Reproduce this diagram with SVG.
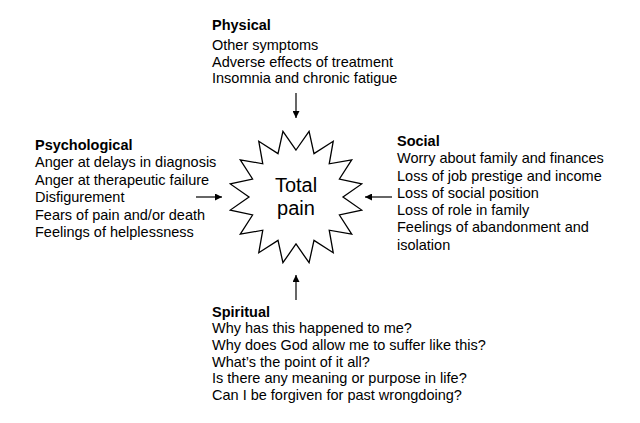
<svg xmlns="http://www.w3.org/2000/svg" width="640" height="423" viewBox="0 0 640 423">
<defs>
<style>
text{font-family:"Liberation Sans",Arial,Helvetica,sans-serif;font-size:14.5px;fill:#000}
.h{font-weight:bold}
.c{font-size:20px;text-anchor:middle}
.conn line{stroke:#000;stroke-width:1.2;fill:none}
</style>
<marker id="ah" viewBox="0 0 10 10" refX="10" refY="5" markerWidth="7" markerHeight="7" markerUnits="userSpaceOnUse" orient="auto">
<path d="M0,0 L10,5 L0,10 z" fill="#000"/>
</marker>
</defs>
<rect width="640" height="423" fill="#fff"/>
<g id="total-pain">
<polygon fill="#fff" stroke="#000" stroke-width="1.3" stroke-linejoin="miter" points="296,150 309.07,131.29 313.99,153.58 333.22,141.29 329.23,163.77 351.71,159.78 339.42,179.01 361.71,183.93 343,197 361.71,210.07 339.42,214.99 351.71,234.22 329.23,230.23 333.22,252.71 313.99,240.42 309.07,262.71 296,244 282.93,262.71 278.01,240.42 258.78,252.71 262.77,230.23 240.29,234.22 252.58,214.99 230.29,210.07 249,197 230.29,183.93 252.58,179.01 240.29,159.78 262.77,163.77 258.78,141.29 278.01,153.58 282.93,131.29"/>
<text class="c" x="296" y="192">Total</text>
<text class="c" x="296" y="214.5">pain</text>
</g>
<g id="physical">
<text class="h" x="212" y="30">Physical</text>
<text x="212" y="50">Other symptoms</text>
<text x="212" y="66.7">Adverse effects of treatment</text>
<text x="212" y="83.4">Insomnia and chronic fatigue</text>
</g>
<g id="psychological">
<text class="h" x="35" y="149.5">Psychological</text>
<text x="35" y="167">Anger at delays in diagnosis</text>
<text x="35" y="184.5">Anger at therapeutic failure</text>
<text x="35" y="202">Disfigurement</text>
<text x="35" y="219.5">Fears of pain and/or death</text>
<text x="35" y="237">Feelings of helplessness</text>
</g>
<g id="social">
<text class="h" x="397" y="145.5">Social</text>
<text x="397" y="163">Worry about family and finances</text>
<text x="397" y="180.5">Loss of job prestige and income</text>
<text x="397" y="198">Loss of social position</text>
<text x="397" y="215">Loss of role in family</text>
<text x="397" y="232.3">Feelings of abandonment and</text>
<text x="397" y="249.5">isolation</text>
</g>
<g id="spiritual">
<text class="h" x="212" y="316.7">Spiritual</text>
<text x="212" y="333.4">Why has this happened to me?</text>
<text x="212" y="350">Why does God allow me to suffer like this?</text>
<text x="212" y="366.7">What’s the point of it all?</text>
<text x="212" y="383.4">Is there any meaning or purpose in life?</text>
<text x="212" y="400">Can I be forgiven for past wrongdoing?</text>
</g>
<g id="connectors" class="conn">
<line x1="296" y1="93" x2="296" y2="118" marker-end="url(#ah)"/>
<line x1="296" y1="300" x2="296" y2="275" marker-end="url(#ah)"/>
<line x1="196" y1="197" x2="222" y2="197" marker-end="url(#ah)"/>
<line x1="392" y1="197" x2="365" y2="197" marker-end="url(#ah)"/>
</g>
</svg>
